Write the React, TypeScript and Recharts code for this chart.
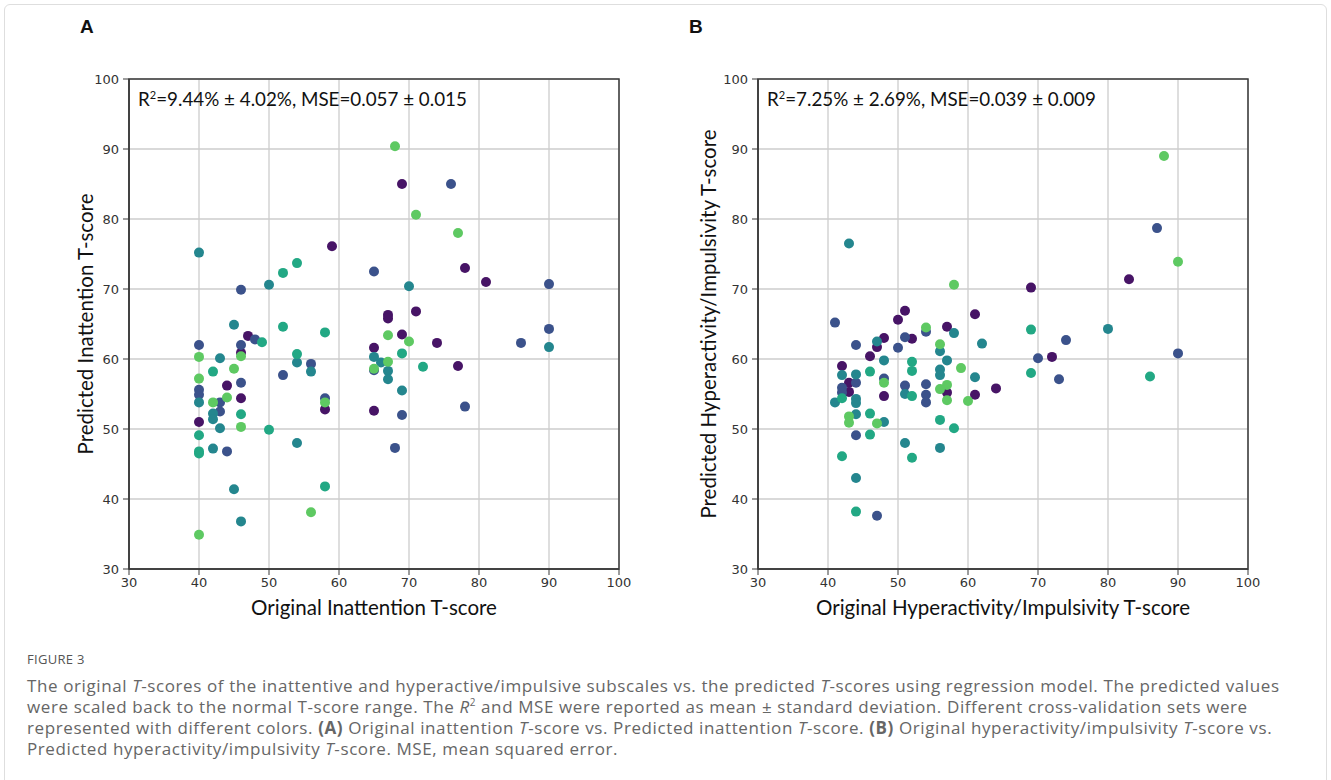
import React from 'react';
import { CartesianGrid, ReferenceArea, Scatter, ScatterChart, XAxis, YAxis } from 'recharts';

// Fold colours (viridis-like, one per cross-validation set)
const FOLD_COLORS = ['#471466', '#3b528b', '#24868e', '#22a884', '#5ec962'];

const AXIS_TICKS = [30, 40, 50, 60, 70, 80, 90, 100];

// Panel A: original vs predicted inattention T-score, [original, predicted]
const inattFold1 = [
  [59, 76.1], [47, 63.3], [46, 60.9], [44, 56.2], [46, 54.4], [40, 51.0], [58, 52.8], [65, 52.6],
  [69, 85.0], [78, 73.0], [81, 71.0], [67, 66.3], [67, 65.8], [71, 66.8], [69, 63.5], [74, 62.3],
  [65, 61.6], [77, 59.0],
];
const inattFold2 = [
  [65, 72.5], [46, 69.9], [48, 62.8], [40, 62.0], [46, 62.0], [56, 59.3], [46, 56.6], [52, 57.7],
  [40, 55.6], [40, 54.9], [58, 54.4], [43, 53.8], [43, 52.5], [44, 46.8], [76, 85.0], [90, 70.7],
  [86, 62.3], [90, 64.3], [78, 53.2], [69, 52.0], [68, 47.3], [65, 58.4],
];
const inattFold3 = [
  [40, 75.2], [50, 70.6], [45, 64.9], [43, 60.1], [54, 59.5], [56, 58.2], [40, 53.8], [42, 52.2],
  [42, 51.4], [43, 50.1], [42, 47.2], [45, 41.4], [46, 36.8], [54, 48.0], [70, 70.4], [90, 61.7],
  [65, 60.3], [66, 59.5], [67, 58.3], [67, 57.1], [69, 55.5],
];
const inattFold4 = [
  [52, 72.3], [54, 73.7], [52, 64.6], [58, 63.8], [49, 62.4], [54, 60.7], [42, 58.2], [46, 52.1],
  [40, 49.1], [40, 46.5], [40, 46.8], [50, 49.9], [58, 41.8], [69, 60.8], [72, 58.9],
];
const inattFold5 = [
  [46, 60.4], [40, 60.3], [45, 58.6], [40, 57.2], [44, 54.5], [42, 53.8], [46, 50.3], [40, 34.9],
  [56, 38.1], [58, 53.8], [68, 90.4], [71, 80.6], [77, 78.0], [67, 63.4], [70, 62.5], [67, 59.6],
  [65, 58.6],
];

// Panel B: original vs predicted hyperactivity/impulsivity T-score
const hyperFold1 = [
  [51, 66.9], [50, 65.6], [61, 66.4], [57, 64.6], [52, 62.9], [48, 63.0], [47, 61.7], [46, 60.4],
  [64, 55.8], [42, 59.0], [43, 56.6], [43, 55.3], [57, 55.2], [61, 54.9], [48, 54.7], [83, 71.4],
  [69, 70.2], [72, 60.3],
];
const hyperFold2 = [
  [41, 65.2], [54, 63.9], [51, 63.1], [44, 62.0], [50, 61.6], [44, 56.6], [48, 57.2], [51, 56.2],
  [54, 56.4], [54, 54.9], [42, 55.9], [42, 55.2], [54, 53.8], [44, 49.1], [47, 37.6], [87, 78.7],
  [74, 62.7], [70, 60.1], [90, 60.8], [73, 57.1],
];
const hyperFold3 = [
  [43, 76.5], [58, 63.7], [62, 62.2], [47, 62.5], [56, 61.1], [48, 59.8], [57, 59.8], [56, 58.5],
  [56, 57.7], [61, 57.4], [42, 57.7], [44, 57.8], [51, 55.0], [41, 53.8], [44, 54.3], [44, 53.7],
  [44, 52.1], [48, 51.0], [51, 48.0], [56, 47.3], [44, 43.0], [80, 64.3],
];
const hyperFold4 = [
  [52, 59.6], [52, 58.3], [46, 58.2], [52, 54.7], [42, 54.4], [46, 52.2], [56, 51.3], [58, 50.1],
  [46, 49.2], [52, 45.9], [42, 46.1], [44, 38.2], [69, 64.2], [69, 58.0], [86, 57.5],
];
const hyperFold5 = [
  [58, 70.6], [54, 64.5], [56, 62.1], [59, 58.7], [48, 56.6], [57, 56.3], [56, 55.7], [57, 54.1],
  [60, 54.0], [43, 51.8], [43, 50.9], [47, 50.8], [88, 89.0], [90, 73.9],
];

const toPoints = (rows: number[][]) => rows.map(([x, y]) => ({ x, y }));

const LABEL_FONT = 'Lato, "Open Sans", sans-serif';
const SPINE = '#3a3a3a';

function dotShape(color: string) {
  return (props: any) => <circle cx={props.cx} cy={props.cy} r={5} fill={color} />;
}

interface PanelProps {
  left: number;
  folds: number[][][];
  letter: string;
  letterX: number;
  yTitleX: number;
  stat: React.ReactNode;
  xTitle: string;
  yTitle: string;
}

function Panel({ left, folds, letter, letterX, yTitleX, stat, xTitle, yTitle }: PanelProps) {
  return (
    <div style={{ position: 'absolute', left, top: 0, width: 650, height: 640 }}>
      <ScatterChart width={650} height={640} margin={{ top: 79, right: 31, bottom: 0, left: 0 }}>
        <CartesianGrid stroke="#cccccc" strokeWidth={1.3} />
        <XAxis
          type="number"
          dataKey="x"
          domain={[30, 100]}
          ticks={AXIS_TICKS}
          height={71}
          tickSize={6}
          tickMargin={3}
          axisLine={{ stroke: SPINE, strokeWidth: 1.5 }}
          tickLine={{ stroke: SPINE }}
          tick={{ fill: '#333', fontSize: 13, fontFamily: 'DejaVu Sans' }}
        />
        <YAxis
          type="number"
          dataKey="y"
          domain={[30, 100]}
          ticks={AXIS_TICKS}
          width={129}
          tickSize={6}
          tickMargin={4}
          axisLine={{ stroke: SPINE, strokeWidth: 1.5 }}
          tickLine={{ stroke: SPINE }}
          tick={{ fill: '#333', fontSize: 13, fontFamily: 'DejaVu Sans' }}
        />
        <ReferenceArea x1={30} x2={100} y1={30} y2={100} fill="none" fillOpacity={0} stroke={SPINE} strokeWidth={1.5} />
        {folds.map((rows, i) => (
          <Scatter
            key={i}
            data={toPoints(rows)}
            fill={FOLD_COLORS[i]}
            shape={dotShape(FOLD_COLORS[i])}
            isAnimationActive={false}
          />
        ))}
      </ScatterChart>
      <div style={{ position: 'absolute', left: letterX, top: 16, fontFamily: 'Liberation Sans, Arial', fontWeight: 700, fontSize: 19, color: '#111' }}>
        {letter}
      </div>
      <div style={{ position: 'absolute', left: 138, top: 87, fontFamily: LABEL_FONT, fontSize: 18.8, color: '#111', whiteSpace: 'nowrap' }}>
        {stat}
      </div>
      <div style={{ position: 'absolute', left: 374, top: 607, transform: 'translate(-50%, -50%)', fontFamily: LABEL_FONT, fontSize: 20.5, color: '#111', whiteSpace: 'nowrap' }}>
        {xTitle}
      </div>
      <div style={{ position: 'absolute', left: yTitleX, top: 324, transform: 'translate(-50%, -50%) rotate(-90deg)', fontFamily: LABEL_FONT, fontSize: 20.5, color: '#111', whiteSpace: 'nowrap' }}>
        {yTitle}
      </div>
    </div>
  );
}

const CAPTION_STYLE: React.CSSProperties = {
  position: 'absolute',
  left: 27,
  fontFamily: '"Open Sans", sans-serif',
  fontSize: 17,
  letterSpacing: 0.6,
  color: '#666',
  whiteSpace: 'nowrap',
};

export default function App() {
  return (
    <div style={{ position: 'fixed', left: 0, top: 0, width: 1331, height: 780, background: '#fff', overflow: 'hidden' }}>
      <div style={{ position: 'absolute', left: 4, top: 4, width: 1321, height: 780, border: '1px solid #dedede', borderRadius: 6 }} />
      <Panel
        left={0}
        folds={[inattFold1, inattFold2, inattFold3, inattFold4, inattFold5]}
        letter="A"
        letterX={80}
        yTitleX={85}
        stat={<span>R<sup style={{ fontSize: 11 }}>2</sup>=9.44% ± 4.02%, MSE=0.057 ± 0.015</span>}
        xTitle="Original Inattention T-score"
        yTitle="Predicted Inattention T-score"
      />
      <Panel
        left={629}
        folds={[hyperFold1, hyperFold2, hyperFold3, hyperFold4, hyperFold5]}
        letter="B"
        letterX={60}
        yTitleX={79}
        stat={<span>R<sup style={{ fontSize: 11 }}>2</sup>=7.25% ± 2.69%, MSE=0.039 ± 0.009</span>}
        xTitle="Original Hyperactivity/Impulsivity T-score"
        yTitle="Predicted Hyperactivity/Impulsivity T-score"
      />
      <div style={{ ...CAPTION_STYLE, top: 650, fontSize: 13, letterSpacing: 0.3, color: '#555' }}>FIGURE 3</div>
      <div style={{ ...CAPTION_STYLE, top: 674 }}>
        The original <i>T</i>-scores of the inattentive and hyperactive/impulsive subscales vs. the predicted <i>T</i>-scores using regression model. The predicted values
      </div>
      <div style={{ ...CAPTION_STYLE, top: 695 }}>
        were scaled back to the normal T-score range. The <i>R</i><sup style={{ fontSize: 10 }}>2</sup> and MSE were reported as mean ± standard deviation. Different cross-validation sets were
      </div>
      <div style={{ ...CAPTION_STYLE, top: 716 }}>
        represented with different colors. <b>(A)</b> Original inattention <i>T</i>-score vs. Predicted inattention <i>T</i>-score. <b>(B)</b> Original hyperactivity/impulsivity <i>T</i>-score vs.
      </div>
      <div style={{ ...CAPTION_STYLE, top: 737 }}>
        Predicted hyperactivity/impulsivity <i>T</i>-score. MSE, mean squared error.
      </div>
    </div>
  );
}
